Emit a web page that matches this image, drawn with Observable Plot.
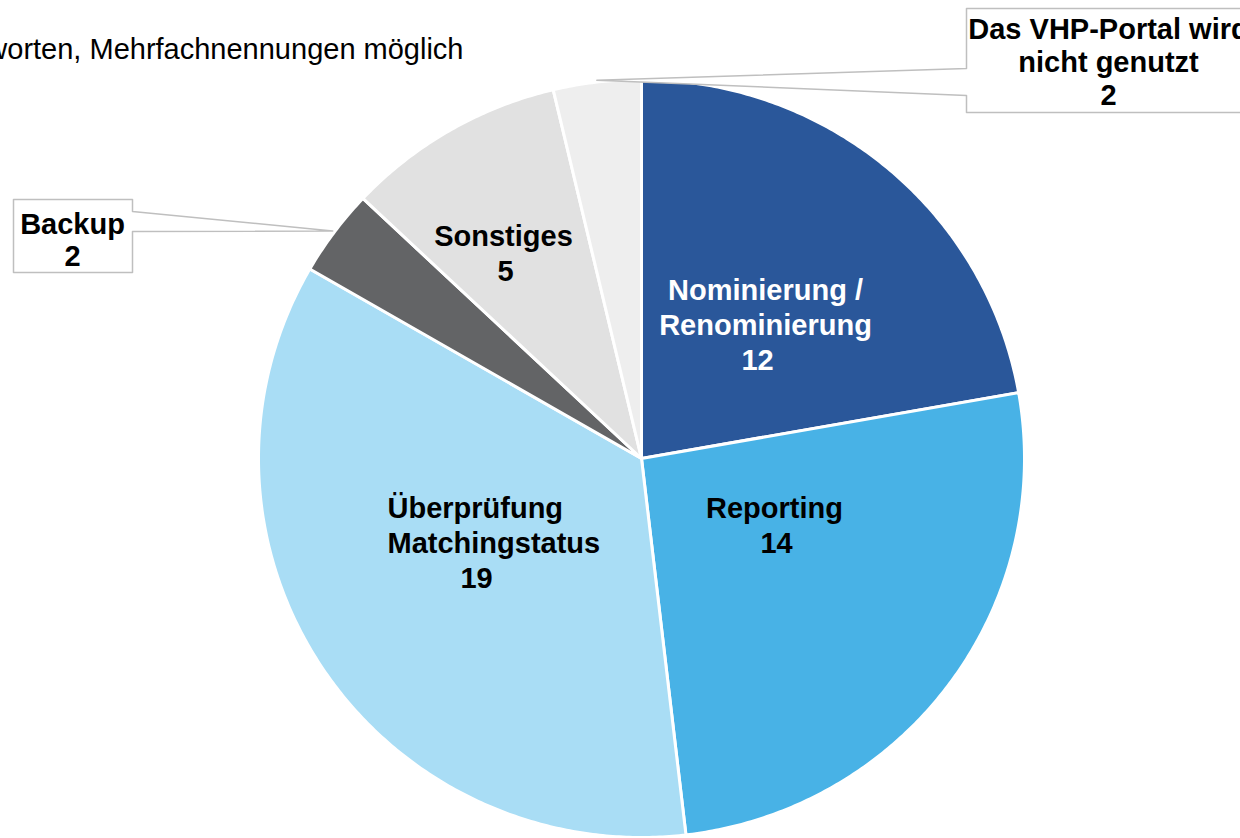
<!DOCTYPE html>
<html><head><meta charset="utf-8">
<script src="https://cdn.jsdelivr.net/npm/d3@7"></script>
<script src="https://cdn.jsdelivr.net/npm/@observablehq/plot@0.6"></script>
<style>html,body{margin:0;padding:0;background:#fff;overflow:hidden}#chart svg{display:block}</style>
</head><body><div id="chart"></div>
<script>
// ---- data ----
const categories = ["Nominierung / Renominierung", "Reporting", "Überprüfung Matchingstatus", "Backup", "Sonstiges", "Das VHP-Portal wird nicht genutzt"];
const labelLines = [["Nominierung /", "Renominierung"], ["Reporting"], ["Überprüfung", "Matchingstatus"], ["Backup"], ["Sonstiges"], ["Das VHP-Portal wird", "nicht genutzt"]];
const values = [12, 14, 19, 2, 5, 2];
const colors = ["#2A579A", "#48B2E6", "#A9DDF5", "#636466", "#E1E1E1", "#EEEEEE"];
const textColors = ["#FFFFFF", "#000000", "#000000", "#000000", "#000000", "#000000"];
const subtitle = "Anzahl Antworten, Mehrfachnennungen möglich";

// ---- layout (pixels) ----
const W = 1240, H = 838, CX = 641, CY = 458, RX = 383, RY = 379;
const FS = 29, FSsub = 29;
const ux = px => (px - CX) / RX, uy = py => (CY - py) / RY;
// label placement: x, first baseline, line height, anchor; value x, baseline
const labelLayout = [
  {x: 765, b: 299, lh: 35, anchor: "middle", vx: 757, vb: 369},
  {x: 774, b: 517, lh: 35, anchor: "middle", vx: 776, vb: 552},
  {x: 387, b: 517, lh: 35, anchor: "start", vx: 476, vb: 587},
  {x: 72, b: 233, lh: 32, anchor: "middle", vx: 72, vb: 265},
  {x: 503, b: 245, lh: 35, anchor: "middle", vx: 505, vb: 280},
  {x: 1108, b: 38, lh: 33, anchor: "middle", vx: 1108, vb: 104}
];
// callout boxes for small slices (index -> box geometry)
const callouts = [
  {i: 3, box: [13, 199, 132, 272], side: "right", w0: 211, w1: 231},
  {i: 5, box: [966, 8, 1260, 112], side: "left", w0: 68, w1: 95}
];

// ---- pie geometry via d3.pie ----
const arcs = d3.pie().sort(null).value(d => d)(values);
const slicePts = [];
arcs.forEach((a, i) => {
  const n = Math.max(2, Math.ceil((a.endAngle - a.startAngle) / (Math.PI / 360)));
  slicePts.push({k: i, x: 0, y: 0});
  for (let j = 0; j <= n; j++) {
    const t = a.startAngle + (a.endAngle - a.startAngle) * j / n;
    slicePts.push({k: i, x: Math.sin(t), y: Math.cos(t)});
  }
});

// callout polygons (tip at slice mid-angle on the rim)
const calloutPts = [];
callouts.forEach(c => {
  const a = arcs[c.i], m = (a.startAngle + a.endAngle) / 2;
  const tip = {x: Math.sin(m) * 1.005, y: Math.cos(m) * 1.005};
  const [x0, y0, x1, y1] = c.box;
  let pts;
  if (c.side === "right") {
    pts = [[x0, y0], [x1, y0], [x1, c.w0], null, [x1, c.w1], [x1, y1], [x0, y1]];
  } else {
    pts = [[x0, y0], [x1, y0], [x1, y1], [x0, y1], [x0, c.w1], null, [x0, c.w0]];
  }
  pts.forEach(p => calloutPts.push(p ? {k: c.i, x: ux(p[0]), y: uy(p[1])} : {k: c.i, x: tip.x, y: tip.y}));
});

// text rows
const textRows = [];
labelLines.forEach((lines, i) => {
  const L = labelLayout[i];
  lines.forEach((t, j) => textRows.push({t, i, anchor: L.anchor, x: ux(L.x), y: uy(L.b + j * L.lh - 0.71 * FS), fill: textColors[i]}));
  textRows.push({t: String(values[i]), i, anchor: "middle", x: ux(L.vx), y: uy(L.vb - 0.71 * FS), fill: textColors[i]});
});

const chart = Plot.plot({
  width: W, height: H, margin: 0,
  x: {domain: [ux(0), ux(W)], axis: null},
  y: {domain: [uy(H), uy(0)], axis: null},
  color: {type: "identity"},
  style: {fontFamily: "'Liberation Sans', Arial, sans-serif", background: "#fff", overflow: "hidden"},
  marks: [
    Plot.line(slicePts, {x: "x", y: "y", z: "k", fill: d => colors[d.k], stroke: "#fff", strokeWidth: 3, strokeLinejoin: "round", curve: "linear-closed"}),
    Plot.line(calloutPts, {x: "x", y: "y", z: "k", fill: "#fff", stroke: "#BFBFBF", strokeWidth: 1.5, curve: "linear-closed"}),
    Plot.text(textRows.filter(d => d.anchor === "middle"), {x: "x", y: "y", text: "t", fill: "fill", textAnchor: "middle", lineAnchor: "top", fontSize: FS, fontWeight: "bold"}),
    Plot.text(textRows.filter(d => d.anchor === "start"), {x: "x", y: "y", text: "t", fill: "fill", textAnchor: "start", lineAnchor: "top", fontSize: FS, fontWeight: "bold"}),
    Plot.text([subtitle], {x: ux(463), y: uy(58 - 0.71 * FSsub), text: d => d, textAnchor: "end", lineAnchor: "top", fontSize: FSsub, fill: "#000"})
  ]
});
document.getElementById("chart").appendChild(chart);
</script>
</body></html>
